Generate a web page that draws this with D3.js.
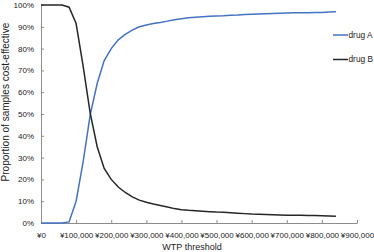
<!DOCTYPE html>
<html>
<head>
<meta charset="utf-8">
<script src="https://cdn.jsdelivr.net/npm/d3@7"></script>
<style>
  body { margin: 0; background: #fff; }
  svg text { font-family: 'Liberation Sans', Arial, sans-serif; fill: #222; }
</style>
</head>
<body>
<div id="canvas"></div>
<script>
const w = 374,
    h = 252,
    margin = { left: 41, right: 17, top: 5, bottom: 29 },
    blue = '#4472c4',
    dark = '#262626';

// WTP threshold (yen)
const wtp = [0, 20000, 40000, 60000, 80000, 100000, 120000, 140000, 160000, 180000,
    200000, 220000, 240000, 260000, 280000, 300000, 320000, 340000, 360000, 380000,
    400000, 420000, 440000, 460000, 480000, 500000, 520000, 540000, 560000, 580000,
    600000, 620000, 640000, 660000, 680000, 700000, 720000, 740000, 760000, 780000,
    800000, 820000, 840000];

// proportion cost-effective (%)
const drugA = [0, 0, 0, 0, 0.5, 10, 28, 49.5, 64, 74.5,
    80, 84, 86.5, 88.5, 90, 90.8, 91.5, 92, 92.6, 93.2,
    93.7, 94.1, 94.4, 94.6, 94.8, 95, 95.1, 95.3, 95.4, 95.6,
    95.8, 95.9, 96, 96.1, 96.2, 96.3, 96.4, 96.5, 96.5, 96.6,
    96.6, 96.8, 96.9];
const drugB = [100, 100, 100, 100, 99, 91.5, 72, 50.5, 35, 25,
    20, 16.5, 14, 12, 10.5, 9.5, 8.7, 8, 7.3, 6.6,
    6.1, 5.8, 5.6, 5.4, 5.2, 5, 4.9, 4.7, 4.5, 4.3,
    4.1, 4, 3.9, 3.8, 3.7, 3.6, 3.5, 3.5, 3.4, 3.4,
    3.3, 3.2, 3.1];

const xTicks = [0, 100000, 200000, 300000, 400000, 500000, 600000, 700000, 800000, 900000];
const yTicks = [0, 10, 20, 30, 40, 50, 60, 70, 80, 90, 100];

const series = [
    { name: 'drug A', values: drugA, color: blue },
    { name: 'drug B', values: drugB, color: dark }
];

const svg = d3.select('#canvas').append('svg')
    .attr('width', w)
    .attr('height', h);

const x = d3.scaleLinear().domain([0, 900000]).range([margin.left, 357]);
const y = d3.scaleLinear().domain([0, 100]).range([h - margin.bottom, margin.top]);

const yen = d => '\u00a5' + d3.format(',')(d);

const xAxis = svg.append('g')
    .attr('transform', 'translate(0,' + y(0) + ')')
    .call(d3.axisBottom(x).tickValues(xTicks).tickFormat(yen).tickSizeInner(-3).tickSizeOuter(0).tickPadding(9));

const yAxis = svg.append('g')
    .attr('transform', 'translate(' + x(0) + ',0)')
    .call(d3.axisLeft(y).tickValues(yTicks).tickFormat(d => d + '%').tickSizeInner(-3).tickSizeOuter(0).tickPadding(7));

[xAxis, yAxis].forEach(g => {
    g.select('.domain').attr('stroke', '#8c8c8c');
    g.selectAll('.tick line').attr('stroke', '#8c8c8c');
    g.selectAll('.tick text')
        .attr('font-family', "'Liberation Sans', Arial, sans-serif")
        .attr('font-size', '8px')
        .attr('fill', '#222');
});

const line = d3.line()
    .x((d, i) => x(wtp[i]))
    .y(d => y(d));

svg.selectAll('path.series')
    .data(series)
    .join('path')
    .attr('class', 'series')
    .attr('d', d => line(d.values))
    .attr('fill', 'none')
    .attr('stroke', d => d.color)
    .attr('stroke-width', 1.5);

// legend
const legend = svg.selectAll('g.legend')
    .data(series)
    .join('g')
    .attr('class', 'legend')
    .attr('transform', (d, i) => 'translate(333,' + (35 + i * 24.5) + ')');

legend.append('line')
    .attr('x1', 0)
    .attr('x2', 15)
    .attr('stroke', d => d.color)
    .attr('stroke-width', 1.5);

legend.append('text')
    .attr('x', 15.5)
    .attr('dy', '0.35em')
    .attr('font-size', '8.3px')
    .text(d => d.name);

svg.append('text')
    .attr('x', 192)
    .attr('y', 250)
    .attr('text-anchor', 'middle')
    .attr('font-size', '9px')
    .text('WTP threshold');

svg.append('text')
    .attr('transform', 'translate(9,102)rotate(-90)')
    .attr('text-anchor', 'middle')
    .attr('font-size', '10px')
    .text('Proportion of samples cost-effective');
</script>
</body>
</html>
